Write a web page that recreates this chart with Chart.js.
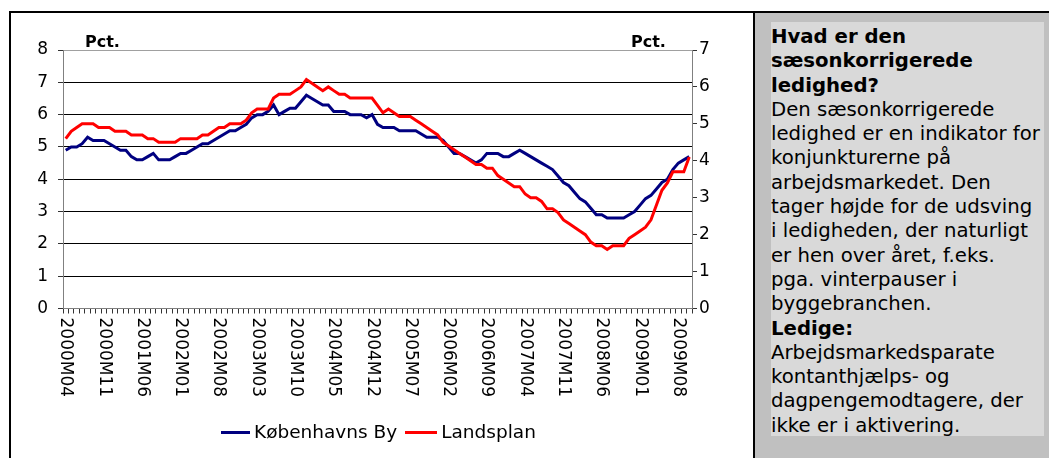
<!DOCTYPE html>
<html><head><meta charset="utf-8">
<script src="https://cdn.jsdelivr.net/npm/chart.js@4"></script>
<style>
html,body{margin:0;padding:0;background:#fff;width:1049px;height:458px;overflow:hidden;font-family:"DejaVu Sans",Verdana,sans-serif;}
#box{position:absolute;left:9px;top:11px;width:742px;height:460px;border:2px solid #000;border-bottom:none;}
#wrap{position:absolute;left:11px;top:13px;width:742px;height:445px;}
#panel{position:absolute;left:755px;top:11px;width:294px;height:460px;background:#c0c0c0;border-top:2px solid #000;}
#info{position:absolute;left:771px;top:22px;width:273px;height:411px;padding-top:3px;background:#d9d9d9;font-size:19.7px;line-height:24.3px;color:#000;white-space:nowrap;overflow:hidden;}
.pct{position:absolute;top:34px;font-weight:bold;font-size:16px;line-height:16px;}
#legend{position:absolute;top:421px;left:221px;font-size:18.5px;line-height:22px;display:flex;align-items:center;white-space:nowrap;}
.ln{display:inline-block;height:3px;margin-right:4px;}
</style></head>
<body>
<div id="box"></div>
<div id="panel"></div>
<div id="wrap"><canvas id="c" width="742" height="445"></canvas></div>
<div class="pct" style="left:85px">Pct.</div>
<div class="pct" style="left:631px">Pct.</div>
<div id="legend"><span class="ln" style="background:#000080;width:29px"></span><span>Københavns By</span><span class="ln" style="background:#ff0000;width:32px;margin-left:8px"></span><span>Landsplan</span></div>
<div id="info"><b>Hvad er den<br>sæsonkorrigerede<br>ledighed?</b><br>Den sæsonkorrigerede<br>ledighed er en indikator for<br>konjunkturerne på<br>arbejdsmarkedet. Den<br>tager højde for de udsving<br>i ledigheden, der naturligt<br>er hen over året, f.eks.<br>pga. vinterpauser i<br>byggebranchen.<br><b>Ledige:</b><br>Arbejdsmarkedsparate<br>kontanthjælps- og<br>dagpengemodtagere, der<br>ikke er i aktivering.</div>
<script>
// Categories: monthly, 2000M04 .. 2009M10
const startYear = 2000, startMonth = 4, nMonths = 115;
const categories = [];
for (let k = 0; k < nMonths; k++) {
  const m = startMonth - 1 + k;
  const y = startYear + Math.floor(m / 12);
  const mm = (m % 12) + 1;
  categories.push(y + 'M' + (mm < 10 ? '0' + mm : mm));
}
const tickLabels = ['2000M04','2000M11','2001M06','2002M01','2002M08','2003M03','2003M10','2004M05','2004M12','2005M07','2006M02','2006M09','2007M04','2007M11','2008M06','2009M01','2009M08'];

// Københavns By (left axis, pct.)
const koebenhavnsBy = [
 4.9,5.0,5.0,5.1,5.3,5.2,5.2,5.2,5.1,5.0,
 4.9,4.9,4.7,4.6,4.6,4.7,4.8,4.6,4.6,4.6,
 4.7,4.8,4.8,4.9,5.0,5.1,5.1,5.2,5.3,5.4,
 5.5,5.5,5.6,5.7,5.9,6.0,6.0,6.1,6.3,6.0,
 6.1,6.2,6.2,6.4,6.6,6.5,6.4,6.3,6.3,6.1,
 6.1,6.1,6.0,6.0,6.0,5.9,6.0,5.7,5.6,5.6,
 5.6,5.5,5.5,5.5,5.5,5.4,5.3,5.3,5.3,5.2,
 5.0,4.8,4.8,4.7,4.6,4.5,4.6,4.8,4.8,4.8,
 4.7,4.7,4.8,4.9,4.8,4.7,4.6,4.5,4.4,4.3,
 4.1,3.9,3.8,3.6,3.4,3.3,3.1,2.9,2.9,2.8,
 2.8,2.8,2.8,2.9,3.0,3.2,3.4,3.5,3.7,3.9,
 4.0,4.3,4.5,4.6,4.7
];
// Landsplan (right axis, pct.)
const landsplan = [
 4.6,4.8,4.9,5.0,5.0,5.0,4.9,4.9,4.9,4.8,
 4.8,4.8,4.7,4.7,4.7,4.6,4.6,4.5,4.5,4.5,
 4.5,4.6,4.6,4.6,4.6,4.7,4.7,4.8,4.9,4.9,
 5.0,5.0,5.0,5.1,5.3,5.4,5.4,5.4,5.7,5.8,
 5.8,5.8,5.9,6.0,6.2,6.1,6.0,5.9,6.0,5.9,
 5.8,5.8,5.7,5.7,5.7,5.7,5.7,5.5,5.3,5.4,
 5.3,5.2,5.2,5.2,5.1,5.0,4.9,4.8,4.7,4.5,
 4.4,4.3,4.2,4.1,4.0,3.9,3.9,3.8,3.8,3.6,
 3.5,3.4,3.3,3.3,3.1,3.0,3.0,2.9,2.7,2.7,
 2.6,2.4,2.3,2.2,2.1,2.0,1.8,1.7,1.7,1.6,
 1.7,1.7,1.7,1.9,2.0,2.1,2.2,2.4,2.8,3.2,
 3.4,3.7,3.7,3.7,4.1
];

const FONT = 'DejaVu Sans';
const AXIS = '#808080';
const TICK = '#333333';
const xLabelPlugin = {
  id: 'xlabels',
  afterDraw(chart) {
    const {ctx, chartArea} = chart;
    const xs = chart.scales.x;
    ctx.save();
    ctx.font = '17px "' + FONT + '"';
    ctx.fillStyle = '#000';
    ctx.textAlign = 'left';
    ctx.textBaseline = 'middle';
    tickLabels.forEach(lbl => {
      const idx = categories.indexOf(lbl);
      if (idx < 0) return;
      const px = xs.getPixelForValue(idx);
      ctx.save();
      ctx.translate(px, chartArea.bottom + 9);
      ctx.rotate(Math.PI / 2);
      ctx.fillText(lbl, 0, 0);
      ctx.restore();
    });
    ctx.restore();
  }
};

new Chart(document.getElementById('c'), {
  type: 'line',
  data: {
    labels: categories,
    datasets: [
      {label: 'Københavns By', data: koebenhavnsBy, borderColor: '#000080', backgroundColor: '#000080', borderWidth: 3, pointRadius: 0, tension: 0, yAxisID: 'y', order: 1},
      {label: 'Landsplan', data: landsplan, borderColor: '#ff0000', backgroundColor: '#ff0000', borderWidth: 3, pointRadius: 0, tension: 0, yAxisID: 'y2', order: 0}
    ]
  },
  options: {
    responsive: false,
    animation: false,
    layout: {padding: {top: 37, left: 0, right: 0, bottom: 0}},
    plugins: {legend: {display: false}, tooltip: {enabled: false}},
    scales: {
      x: {
        type: 'category', offset: true,
        grid: {display: true, offset: true, drawOnChartArea: false, drawTicks: true, tickLength: 5, tickWidth: 1, tickColor: TICK, color: AXIS},
        border: {color: AXIS, width: 1},
        ticks: {display: true, autoSkip: false, maxRotation: 0, minRotation: 0, padding: 0, color: 'rgba(0,0,0,0)', callback: () => ''},
        afterFit(s) { s.height = 149.5; s.paddingLeft = 0; s.paddingRight = 0; }
      },
      y: {
        position: 'left', min: 0, max: 8,
        ticks: {stepSize: 1, padding: 10, color: '#000', font: {family: FONT, size: 17}},
        grid: {color: c => c.tick && c.tick.value === 0 ? 'rgba(0,0,0,0)' : (c.tick && c.tick.value === 8 ? '#a0a0a0' : '#000'), tickColor: TICK, tickWidth: 1, tickLength: 5},
        border: {color: AXIS},
        afterFit(s) { s.width = 52; s.paddingTop = 0; s.paddingBottom = 0; }
      },
      y2: {
        position: 'right', min: 0, max: 7,
        ticks: {stepSize: 1, padding: 2, color: '#000', font: {family: FONT, size: 17}},
        grid: {drawOnChartArea: false, tickColor: TICK, tickWidth: 1, tickLength: 5},
        border: {color: AXIS},
        afterFit(s) { s.width = 61; s.paddingTop = 0; s.paddingBottom = 0; }
      }
    }
  },
  plugins: [xLabelPlugin]
});
</script>
</body></html>
